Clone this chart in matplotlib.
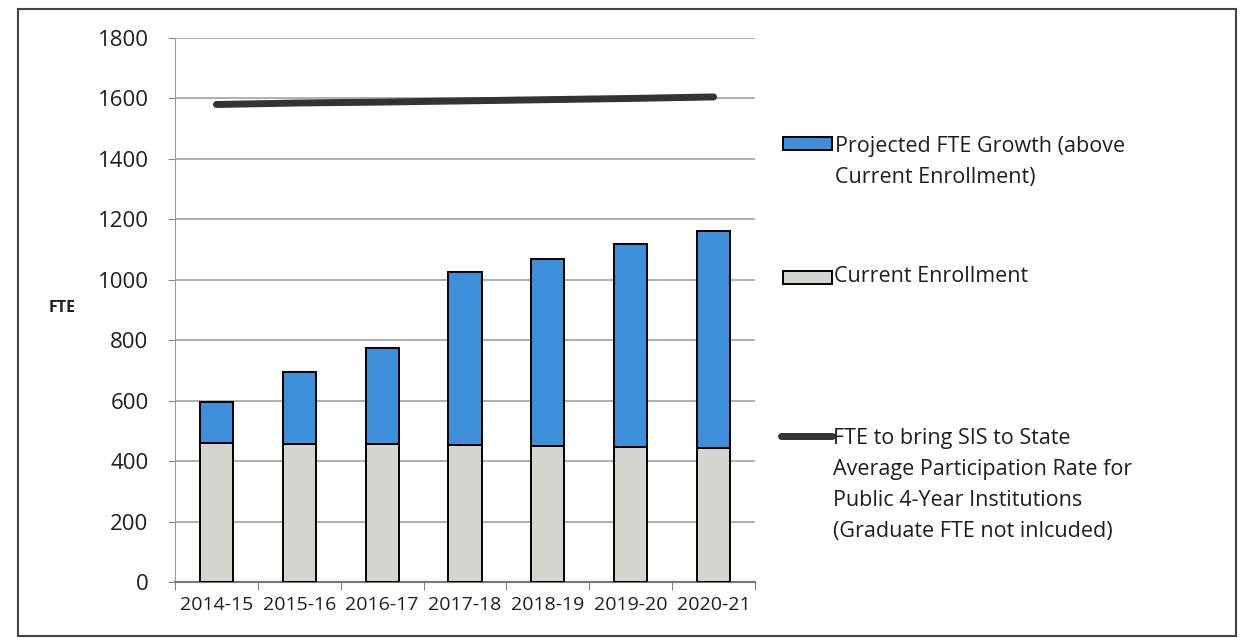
import matplotlib
matplotlib.use("Agg")
import matplotlib.pyplot as plt
from matplotlib.patches import Rectangle
from matplotlib.lines import Line2D
import numpy as np

categories = ["2014-15", "2015-16", "2016-17", "2017-18", "2018-19", "2019-20", "2020-21"]
current_enrollment = [460, 458, 455, 452, 450, 448, 445]
total_projected = [595, 695, 775, 1025, 1070, 1120, 1160]
state_avg_target = [1580, 1585, 1588, 1592, 1596, 1600, 1605]
growth = [t - c for t, c in zip(total_projected, current_enrollment)]

yticks = [0, 200, 400, 600, 800, 1000, 1200, 1400, 1600, 1800]

legend_labels = [
    "Projected FTE Growth (above\nCurrent Enrollment)",
    "Current Enrollment",
    "FTE to bring SIS to State\nAverage Participation Rate for\nPublic 4-Year Institutions\n(Graduate FTE not inlcuded)",
]

plt.rcParams['font.family'] = ['Open Sans', 'DejaVu Sans']

W, H = 1244, 638
fig = plt.figure(figsize=(W / 100, H / 100), dpi=100)
ax = fig.add_axes([175 / W, 1 - 582 / H, (755 - 175) / W, (582 - 38) / H])

blue = "#3D8FD9"
gray = "#D5D5D0"
txt = "#1e1e1e"
x = np.arange(len(categories))
bw = 0.40
ax.bar(x, current_enrollment, width=bw, color=gray, edgecolor="black", linewidth=1.4, zorder=3)
ax.bar(x, growth, bottom=current_enrollment, width=bw, color=blue, edgecolor="black", linewidth=1.4, zorder=3)
ax.plot(x, state_avg_target, color="#333333", linewidth=5, solid_capstyle="round", zorder=4)

ax.set_xlim(-0.5, len(categories) - 0.5)
ax.set_ylim(0, 1800)
ax.set_yticks(yticks)
ax.set_yticklabels([str(v) for v in yticks], fontsize=16, color=txt)
ax.set_xticks(x)
ax.set_xticklabels(categories, fontsize=14, color=txt)
ax.set_xticks(np.arange(-0.5, len(categories), 1.0), minor=True)
ax.tick_params(axis="x", which="major", length=0, pad=10)
ax.tick_params(axis="x", which="minor", length=6, color="#666666")
ax.tick_params(axis="y", length=5, color="#888888", pad=14)
ax.grid(axis="y", color="#9a9a9a", linewidth=1.1, zorder=0)
for s in ["top", "right"]:
    ax.spines[s].set_visible(False)
ax.spines["left"].set_color("#999999")
ax.spines["bottom"].set_color("#777777")
ax.spines["bottom"].set_linewidth(1.5)

fig.text(62 / W, 1 - 308 / H, "FTE", fontsize=11.5, ha="center", va="center", fontweight="bold", color=txt)

# legend drawn manually
def fx(px):
    return px / W

def fy(py):
    return 1 - py / H

LFS = 15.5
LS = 1.62
fig.patches.append(Rectangle((fx(783), fy(150)), (832 - 783) / W, 13 / H, transform=fig.transFigure,
                             facecolor=blue, edgecolor="black", linewidth=1.4))
fig.text(fx(835), fy(136), legend_labels[0], fontsize=LFS, va="top", ha="left", linespacing=LS,
         color=txt)
fig.patches.append(Rectangle((fx(783), fy(284)), (832 - 783) / W, 13 / H, transform=fig.transFigure,
                             facecolor=gray, edgecolor="black", linewidth=1.4))
fig.text(fx(834), fy(277), legend_labels[1], fontsize=LFS, va="center", ha="left", color=txt)
fig.lines.append(Line2D([fx(781), fx(832)], [fy(436), fy(436)], transform=fig.transFigure,
                        color="#333333", linewidth=5, solid_capstyle="round"))
fig.text(fx(833), fy(428), legend_labels[2], fontsize=LFS, va="top", ha="left", linespacing=LS,
         color=txt)

# outer frame
fig.patches.append(Rectangle((fx(18), fy(636)), (1236 - 18) / W, (636 - 9) / H, transform=fig.transFigure,
                             facecolor="none", edgecolor="#444444", linewidth=1.5))

fig.savefig("out.png", dpi=100, facecolor="white")
